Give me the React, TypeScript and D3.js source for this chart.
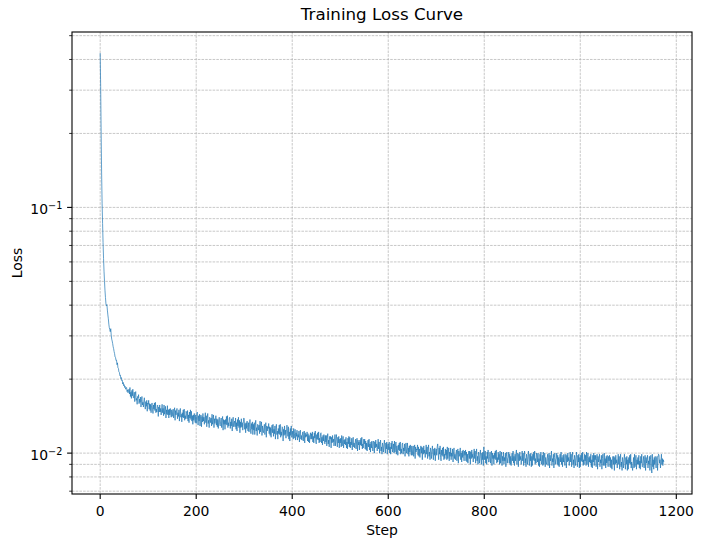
import React from "react";
import * as d3 from "d3";

const losses: number[] = [
.425,.31,.2,.138,.104,.086,.072,.062,.055,.05,
.046,.043,.0405,.0398,.0402,.0382,.0365,.0352,.0335,.0324,
.0318,.0312,.0321,.0302,.0291,.0286,.0279,.0271,.0266,.0259,
.0254,.0246,.0245,.0238,.0239,.0229,.0233,.0222,.0221,.0214,
.0213,.0207,.0208,.0201,.0203,.0197,.0198,.0191,.0194,.0188,
.0190,.0185,.0187,.0182,.0184,.0185,.0178,.0181,.0176,.0180,
.0182,.0174,.0185,.0170,.0177,.0167,.0180,.0171,.0182,.0168,
.0168,.0177,.0162,.0172,.0178,.0164,.0167,.0158,.0170,.0168,
.0173,.0159,.0166,.0161,.0169,.0154,.0165,.0170,.0157,.0161,
.0154,.0163,.0168,.0157,.0151,.0162,.0155,.0164,.0148,.0160,
.0158,.0164,.0151,.0159,.0149,.0158,.0146,.0156,.0160,.0151,
.0145,.0157,.0151,.0160,.0149,.0161,.0146,.0151,.0147,.0157,
.0156,.0141,.0154,.0147,.0157,.0147,.0152,.0143,.0151,.0158,
.0146,.0152,.0142,.0157,.0144,.0149,.0155,.0139,.0150,.0144,
.0156,.0143,.0150,.0139,.0151,.0143,.0152,.0144,.0140,.0150,
.0141,.0147,.0151,.0139,.0148,.0153,.0136,.0149,.0143,.0148,
.0152,.0138,.0146,.0141,.0150,.0135,.0147,.0152,.0140,.0144,
.0134,.0146,.0140,.0150,.0139,.0151,.0136,.0142,.0138,.0148,
.0145,.0138,.0149,.0135,.0143,.0133,.0147,.0139,.0150,.0137,
.0148,.0135,.0142,.0131,.0143,.0136,.0145,.0137,.0133,.0143,
.0132,.0141,.0147,.0136,.0130,.0142,.0135,.0144,.0129,.0141,
.0143,.0128,.0141,.0134,.0145,.0135,.0140,.0131,.0139,.0146,
.0133,.0142,.0128,.0139,.0145,.0132,.0136,.0127,.0140,.0138,
.0133,.0139,.0129,.0144,.0131,.0137,.0143,.0127,.0138,.0132,
.0136,.0142,.0130,.0138,.0128,.0137,.0126,.0136,.0140,.0131,
.0129,.0135,.0139,.0127,.0136,.0141,.0124,.0137,.0131,.0136,
.0125,.0137,.0131,.0141,.0130,.0142,.0127,.0133,.0129,.0139,
.0140,.0126,.0134,.0129,.0138,.0123,.0135,.0140,.0128,.0132,
.0135,.0128,.0139,.0125,.0133,.0123,.0137,.0129,.0140,.0127,
.0136,.0121,.0134,.0127,.0138,.0128,.0133,.0124,.0132,.0139,
.0138,.0125,.0132,.0121,.0133,.0126,.0135,.0127,.0123,.0133,
.0122,.0131,.0137,.0126,.0120,.0132,.0125,.0134,.0119,.0131,
.0124,.0133,.0119,.0130,.0136,.0123,.0127,.0118,.0131,.0129,
.0124,.0130,.0120,.0135,.0122,.0128,.0134,.0118,.0129,.0123,
.0121,.0127,.0131,.0119,.0128,.0133,.0116,.0129,.0123,.0128,
.0126,.0132,.0120,.0128,.0118,.0127,.0116,.0126,.0130,.0121,
.0131,.0117,.0125,.0120,.0129,.0114,.0126,.0131,.0119,.0123,
.0114,.0126,.0120,.0130,.0119,.0131,.0116,.0122,.0118,.0128,
.0127,.0112,.0125,.0118,.0129,.0119,.0124,.0115,.0123,.0130,
.0124,.0117,.0128,.0114,.0122,.0112,.0126,.0118,.0129,.0116,
.0118,.0123,.0114,.0126,.0115,.0120,.0125,.0113,.0121,.0117,
.0124,.0113,.0119,.0116,.0123,.0111,.0120,.0124,.0114,.0118,
.0113,.0118,.0122,.0112,.0119,.0123,.0110,.0121,.0116,.0119,
.0117,.0122,.0112,.0120,.0111,.0118,.0110,.0117,.0121,.0114,
.0120,.0114,.0122,.0111,.0117,.0110,.0121,.0115,.0123,.0112,
.0109,.0119,.0114,.0121,.0113,.0122,.0110,.0115,.0111,.0120,
.0121,.0110,.0116,.0108,.0118,.0112,.0119,.0113,.0109,.0118,
.0111,.0118,.0107,.0115,.0120,.0109,.0113,.0106,.0117,.0114,
.0117,.0105,.0116,.0110,.0118,.0111,.0114,.0107,.0113,.0119,
.0107,.0114,.0119,.0111,.0106,.0116,.0110,.0117,.0105,.0114,
.0110,.0115,.0106,.0118,.0107,.0112,.0117,.0105,.0113,.0109,
.0114,.0108,.0116,.0105,.0111,.0104,.0115,.0109,.0117,.0106,
.0116,.0105,.0111,.0108,.0115,.0103,.0112,.0116,.0106,.0110,
.0105,.0110,.0114,.0104,.0111,.0115,.0102,.0113,.0108,.0111,
.0103,.0113,.0108,.0115,.0107,.0116,.0104,.0109,.0105,.0114,
.0109,.0114,.0104,.0112,.0103,.0110,.0102,.0109,.0113,.0106,
.0114,.0103,.0109,.0101,.0111,.0105,.0112,.0106,.0102,.0111,
.0112,.0100,.0111,.0105,.0113,.0106,.0109,.0102,.0108,.0114,
.0104,.0111,.0100,.0108,.0113,.0102,.0106,.0099,.0110,.0107,
.0101,.0108,.0113,.0105,.0100,.0110,.0104,.0111,.0099,.0108,
.0109,.0103,.0111,.0100,.0106,.0099,.0110,.0104,.0112,.0101,
.0104,.0109,.0100,.0112,.0101,.0106,.0111,.0099,.0107,.0103,
.0098,.0108,.0103,.0110,.0102,.0111,.0099,.0104,.0100,.0109,
.0110,.0099,.0105,.0102,.0109,.0097,.0106,.0110,.0100,.0104,
.0110,.0099,.0105,.0097,.0107,.0101,.0108,.0102,.0098,.0107,
.0098,.0103,.0107,.0097,.0104,.0108,.0095,.0106,.0101,.0104,
.0103,.0108,.0098,.0106,.0097,.0104,.0096,.0103,.0107,.0100,
.0106,.0094,.0105,.0099,.0107,.0100,.0103,.0096,.0102,.0108,
.0099,.0106,.0095,.0103,.0108,.0097,.0101,.0094,.0105,.0102,
.0095,.0102,.0107,.0099,.0094,.0104,.0098,.0105,.0093,.0102,
.0104,.0098,.0106,.0109,.0101,.0094,.0105,.0099,.0107,.0096,
.0093,.0103,.0098,.0105,.0097,.0106,.0094,.0099,.0095,.0104,
.0098,.0103,.0094,.0106,.0095,.0100,.0105,.0093,.0101,.0097,
.0105,.0094,.0100,.0097,.0104,.0092,.0101,.0105,.0095,.0099,
.0094,.0099,.0103,.0093,.0100,.0104,.0091,.0102,.0097,.0100,
.0105,.0094,.0100,.0092,.0102,.0096,.0103,.0097,.0093,.0102,
.0098,.0103,.0093,.0101,.0092,.0099,.0091,.0098,.0102,.0095,
.0102,.0090,.0101,.0095,.0103,.0096,.0099,.0092,.0098,.0104,
.0095,.0102,.0091,.0099,.0104,.0093,.0097,.0090,.0101,.0098,
.0091,.0098,.0103,.0095,.0090,.0100,.0094,.0101,.0089,.0106,
.0100,.0094,.0102,.0091,.0097,.0090,.0101,.0095,.0103,.0092,
.0092,.0097,.0101,.0091,.0098,.0102,.0089,.0100,.0095,.0098,
.0090,.0100,.0095,.0102,.0094,.0103,.0091,.0096,.0092,.0101,
.0094,.0099,.0090,.0102,.0091,.0096,.0101,.0089,.0097,.0093,
.0101,.0090,.0096,.0093,.0100,.0088,.0097,.0101,.0091,.0095,
.0096,.0101,.0091,.0099,.0090,.0097,.0089,.0096,.0100,.0093,
.0102,.0091,.0097,.0089,.0099,.0093,.0100,.0103,.0090,.0099,
.0100,.0088,.0099,.0093,.0101,.0094,.0097,.0090,.0096,.0102,
.0093,.0100,.0089,.0097,.0102,.0091,.0095,.0088,.0099,.0096,
.0090,.0097,.0102,.0094,.0089,.0099,.0093,.0100,.0088,.0097,
.0089,.0099,.0094,.0101,.0093,.0102,.0090,.0095,.0091,.0100,
.0098,.0092,.0100,.0089,.0095,.0088,.0099,.0093,.0101,.0090,
.0093,.0098,.0089,.0101,.0090,.0095,.0100,.0088,.0096,.0092,
.0090,.0095,.0099,.0089,.0096,.0100,.0087,.0098,.0093,.0096,
.0102,.0089,.0095,.0092,.0099,.0087,.0096,.0100,.0090,.0094,
.0095,.0100,.0090,.0098,.0089,.0096,.0088,.0095,.0099,.0092,
.0101,.0090,.0096,.0088,.0098,.0092,.0099,.0093,.0089,.0098,
.0099,.0087,.0098,.0092,.0100,.0093,.0096,.0089,.0095,.0101,
.0092,.0099,.0088,.0096,.0101,.0090,.0094,.0087,.0098,.0095,
.0089,.0096,.0101,.0093,.0088,.0098,.0092,.0099,.0087,.0096,
.0088,.0098,.0093,.0100,.0092,.0101,.0089,.0094,.0090,.0099,
.0093,.0098,.0089,.0101,.0090,.0095,.0100,.0088,.0096,.0092,
.0097,.0091,.0099,.0088,.0094,.0087,.0098,.0092,.0100,.0089,
.0098,.0094,.0098,.0088,.0095,.0099,.0086,.0097,.0092,.0095,
.0099,.0088,.0094,.0091,.0098,.0086,.0095,.0099,.0089,.0093,
.0100,.0089,.0095,.0087,.0097,.0091,.0098,.0092,.0088,.0097,
.0093,.0098,.0088,.0096,.0087,.0094,.0086,.0093,.0097,.0090,
.0097,.0085,.0096,.0090,.0098,.0091,.0094,.0087,.0093,.0099,
.0090,.0097,.0086,.0094,.0099,.0088,.0092,.0085,.0096,.0093,
.0087,.0094,.0099,.0091,.0086,.0096,.0090,.0097,.0085,.0094,
.0086,.0096,.0091,.0098,.0090,.0099,.0087,.0092,.0088,.0085,
.0091,.0096,.0087,.0099,.0088,.0093,.0098,.0086,.0094,.0090,
.0096,.0090,.0098,.0087,.0093,.0086,.0097,.0091,.0099,.0088,
.0088,.0093,.0097,.0087,.0094,.0098,.0085,.0096,.0091,.0094,
.0098,.0087,.0093,.0090,.0097,.0085,.0094,.0098,.0088,.0083,
.0099,.0088,.0094,.0086,.0096,.0090,.0097,.0091,.0087,.0096,
.0097,.0085,.0096,.0099,.0098,.0091,.0094,.0087,.0093,.0099,
.0090,.0095,.0089,.0094,.0092
];

const steps: number[] = d3.range(losses.length);
const xTickValues: number[] = [0, 200, 400, 600, 800, 1000, 1200];
const yMajorValues: number[] = [0.1, 0.01];
const yMajorExponents: string[] = ["\u22121", "\u22122"];

const W = 703, H = 547;
const L = 72, R = 692, T = 32, B = 494;
const FONT = "DejaVu Sans, sans-serif";

export default function App() {
  const xMin = d3.min(steps)!, xMax = d3.max(steps)!;
  const xPad = 0.05 * (xMax - xMin);
  const x = d3.scaleLinear().domain([xMin - xPad, xMax + xPad]).range([L, R]);

  const logs = losses.map((v) => Math.log10(v));
  const lo = d3.min(logs)!, hi = d3.max(logs)!;
  const yPad = 0.05 * (hi - lo);
  const y = d3.scaleLog().domain([Math.pow(10, lo - yPad), Math.pow(10, hi + yPad)]).range([B, T]);

  const allY = y.ticks();
  const minorY = allY.filter((v) => {
    const l = Math.log10(v);
    return Math.abs(l - Math.round(l)) > 1e-6;
  });

  const line = d3.line<number>()
    .x((_, i) => x(steps[i]))
    .y((d) => y(d));

  const gridStyle = { stroke: "#b0b0b0", strokeWidth: 0.7, strokeDasharray: "2.6,1.1" };

  return (
    <svg width={W} height={H} style={{ position: "absolute", left: 0, top: 0, background: "#fff" }} fontFamily={FONT}>
      <rect x={0} y={0} width={W} height={H} fill="#fff" />
      {xTickValues.map((v) => (
        <line key={"gx" + v} x1={x(v)} x2={x(v)} y1={T} y2={B} {...gridStyle} />
      ))}
      {yMajorValues.concat(minorY).map((v) => (
        <line key={"gy" + v} x1={L} x2={R} y1={y(v)} y2={y(v)} {...gridStyle} />
      ))}
      <clipPath id="plotclip">
        <rect x={L} y={T} width={R - L} height={B - T} />
      </clipPath>
      <path d={line(losses) || ""} fill="none" stroke="#1f77b4" strokeWidth={0.7} strokeLinejoin="round" clipPath="url(#plotclip)" />
      <rect x={L} y={T} width={R - L} height={B - T} fill="none" stroke="#000" strokeWidth={1.1} />
      {xTickValues.map((v) => (
        <g key={"xt" + v}>
          <line x1={x(v)} x2={x(v)} y1={B} y2={B + 4.9} stroke="#000" strokeWidth={1.1} />
          <text x={x(v)} y={B + 21.5} fontSize={13.9} textAnchor="middle" fill="#000">{v}</text>
        </g>
      ))}
      {yMajorValues.map((v, i) => (
        <g key={"ym" + v}>
          <line x1={L - 4.9} x2={L} y1={y(v)} y2={y(v)} stroke="#000" strokeWidth={1.1} />
          <text x={L - 9.7} y={y(v) + 6.7} fontSize={13.9} textAnchor="end" fill="#000">
            10<tspan fontSize={9.7} dy={-5.3}>{yMajorExponents[i]}</tspan>
          </text>
        </g>
      ))}
      {minorY.map((v) => (
        <line key={"yn" + v} x1={L - 2.8} x2={L} y1={y(v)} y2={y(v)} stroke="#000" strokeWidth={0.8} />
      ))}
      <text x={(L + R) / 2} y={535} fontSize={13.9} textAnchor="middle" fill="#000">Step</text>
      <text transform={`translate(21.7, ${(T + B) / 2}) rotate(-90)`} fontSize={13.9} textAnchor="middle" fill="#000">Loss</text>
      <text x={(L + R) / 2} y={20} fontSize={16.7} textAnchor="middle" fill="#000">Training Loss Curve</text>
    </svg>
  );
}
